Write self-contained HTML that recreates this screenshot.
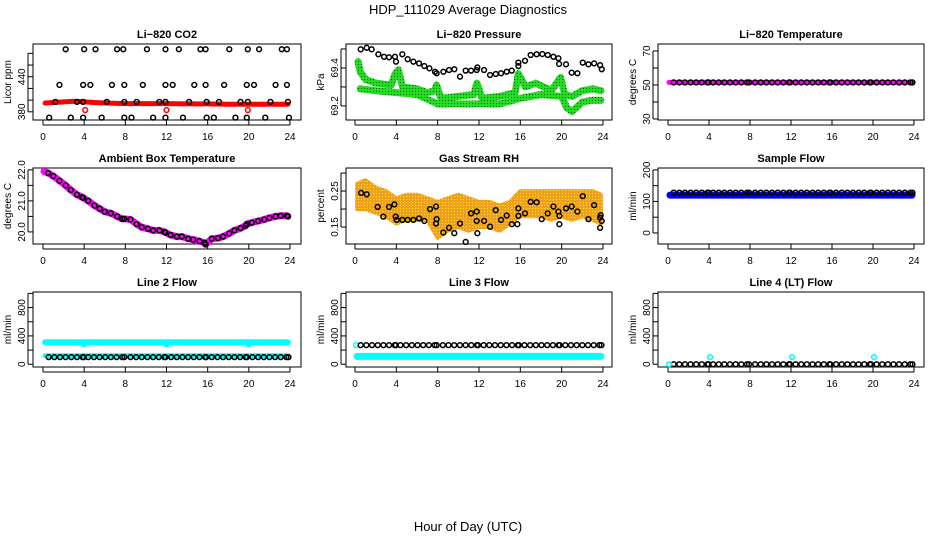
<!DOCTYPE html>
<html><head><meta charset="utf-8">
<style>
html,body{margin:0;padding:0;background:#fff;}
svg{display:block;font-family:"Liberation Sans",sans-serif;}
</style></head>
<body>
<svg id="chart" width="936" height="540" viewBox="0 0 936 540" xmlns="http://www.w3.org/2000/svg">
<defs>
<pattern id="dots" width="3" height="3" patternUnits="userSpaceOnUse"><rect width="3" height="3" fill="#22dd22"/><rect x="1" y="1" width="1" height="1" fill="#0a5a0a"/></pattern>
<pattern id="rhdots" width="3" height="3" patternUnits="userSpaceOnUse"><rect width="3" height="3" fill="#f0a020"/><rect x="1" y="1" width="1" height="1" fill="#ffee00"/></pattern>
</defs>
<rect width="936" height="540" fill="#fff"/>
<text x="468" y="14" text-anchor="middle" font-size="13">HDP_111029  Average Diagnostics</text>
<text x="468" y="531" text-anchor="middle" font-size="13">Hour of Day (UTC)</text>
</svg>
<script>
// ---- data ----
const xTicks = [0,4,8,12,16,20,24];
const circleTimes = [0.55,1.1,1.65,2.2,2.75,3.3,3.85,3.95,4.4,4.95,5.5,6.05,6.6,7.15,7.7,7.9,8.5,9.05,9.6,10.15,10.7,11.25,11.8,11.9,12.45,13,13.55,14.1,14.65,15.2,15.75,15.85,16.4,16.95,17.5,18.05,18.6,19.15,19.7,19.8,20.35,20.9,21.45,22,22.55,23.1,23.65,23.85];

const co2TopT = [2.2,4.0,5.1,7.2,7.8,10.1,11.9,13.2,15.3,15.8,18.1,19.9,21.0,23.2,23.7];
const co2MidT = [1.6,3.9,4.6,6.7,7.9,9.7,11.9,12.6,14.7,15.8,17.6,19.8,20.5,22.6,23.7];
const co2LowT = [1.2,3.3,3.9,6.2,7.9,9.1,11.3,11.9,14.2,15.9,17.1,19.2,19.9,22.1,23.8];
const co2BotT = [0.6,2.7,3.9,5.7,7.9,8.6,10.7,11.9,13.6,15.9,16.6,18.7,19.8,21.6,23.9];
const co2Levels = [487,426,397,370];
const co2RedT = [4.1,12.0,19.9];
const co2RedV = 383;
const co2BandT = [0.2,1,2,3,4,5,6,8,10,12,14,16,18,20,22,23.8];
const co2BandV = [395,396,397,398,397,396,395,394,394,394,393.5,393.5,393,393,393,393];

const presT = [0.55,1.13,1.61,2.26,2.81,3.29,3.87,3.97,4.58,5.1,5.65,6.2,6.71,7.2,7.74,7.9,8.55,9.1,9.61,10.16,10.71,11.23,11.78,11.84,12.49,13.07,13.62,14.13,14.68,15.17,15.81,15.81,16.45,17.0,17.58,18.13,18.65,19.2,19.68,19.75,20.42,20.97,21.52,22.04,22.59,23.14,23.72,23.88];
const presV = [69.498,69.506,69.498,69.472,69.459,69.456,69.459,69.433,69.472,69.446,69.433,69.424,69.410,69.398,69.380,69.372,69.380,69.389,69.393,69.354,69.386,69.386,69.389,69.403,69.389,69.363,69.368,69.372,69.380,69.386,69.410,69.428,69.438,69.468,69.472,69.473,69.468,69.459,69.451,69.421,69.419,69.375,69.372,69.428,69.419,69.424,69.415,69.393];
const presGreenAT = [0.3,0.5,1,2,3.5,3.9,4.2,4.6,6,7,7.7,7.9,8.3,10,11.5,11.8,12.3,14,15.5,15.8,16.5,17.5,19,19.9,20.3,21,22,23,23.8];
const presGreenAV = [69.433,69.38,69.34,69.32,69.31,69.37,69.39,69.30,69.29,69.27,69.28,69.31,69.24,69.25,69.26,69.32,69.24,69.25,69.27,69.37,69.30,69.32,69.28,69.35,69.26,69.25,69.28,69.29,69.28];
const presGreenBT = [0.5,2,4,6,8,10,12,14,16,18,20,20.5,21,22,23,23.8];
const presGreenBV = [69.29,69.28,69.27,69.26,69.21,69.21,69.21,69.21,69.24,69.26,69.25,69.19,69.17,69.22,69.23,69.23];

const tempLevel = 51.5;

const ambT = [0.5,1,1.6,2.2,2.7,3.3,3.8,3.9,4.4,5,5.5,6,6.6,7.2,7.7,7.9,8.5,9.1,9.6,10.2,10.7,11.3,11.8,11.9,12.4,13,13.5,14.1,14.6,15.2,15.7,15.8,16.4,17,17.5,18.1,18.6,19.2,19.7,19.8,20.3,20.9,21.5,22,22.6,23.1,23.7,23.8];
const ambV = [21.9,21.8,21.65,21.5,21.35,21.2,21.12,21.1,21.0,20.85,20.75,20.65,20.6,20.5,20.42,20.42,20.4,20.25,20.15,20.1,20.05,20.05,20.0,19.98,19.9,19.85,19.85,19.78,19.75,19.7,19.65,19.6,19.78,19.8,19.85,19.95,20.05,20.12,20.2,20.25,20.3,20.35,20.4,20.45,20.5,20.52,20.52,20.5];

const rhT = [0.59,1.13,2.19,2.74,3.29,3.81,3.94,4.03,4.58,5.1,5.65,6.2,6.71,7.26,7.84,7.84,7.9,8.55,9.1,9.61,10.16,10.71,11.23,11.78,11.78,11.84,12.49,13.07,13.62,14.13,14.68,15.17,15.71,15.81,15.81,16.45,17.0,17.58,18.07,18.65,19.2,19.68,19.78,19.78,20.42,20.97,21.52,22.04,22.59,23.14,23.72,23.78,23.72,23.88];
const rhV = [0.245,0.241,0.206,0.179,0.206,0.213,0.179,0.170,0.170,0.170,0.170,0.174,0.167,0.200,0.207,0.160,0.172,0.135,0.148,0.133,0.160,0.109,0.188,0.193,0.167,0.133,0.167,0.151,0.197,0.170,0.182,0.158,0.158,0.202,0.181,0.188,0.220,0.219,0.172,0.188,0.207,0.193,0.181,0.158,0.202,0.207,0.193,0.236,0.172,0.211,0.176,0.183,0.148,0.167];
const rhBandT = [0.2,1,2,3,4,5,6,7,8,9,10,11,12,13,14,15,16,17,18,19,20,21,22,23,23.8];
const rhBandHi = [0.27,0.28,0.26,0.25,0.23,0.24,0.24,0.23,0.22,0.23,0.24,0.23,0.22,0.22,0.21,0.22,0.25,0.25,0.25,0.25,0.25,0.25,0.25,0.25,0.24];
const rhBandLo = [0.20,0.20,0.19,0.18,0.16,0.17,0.17,0.17,0.12,0.14,0.15,0.14,0.15,0.15,0.14,0.16,0.18,0.18,0.18,0.17,0.18,0.17,0.18,0.17,0.16];

const sampleBlack = 128;
const sampleBlue = 120;

const l2Cyan = 310;
const l2CyanDipT = [4,12,20];
const l2CyanDipV = 280;
const l2CyanLow = 120;
const l2Black = 100;

const l3Black = 270;
const l3Cyan = 110;

const l4Black = 0;
const l4CyanT = [0.1,4.1,12.1,20.1];
const l4CyanV = [0,100,100,100];

// ---- drawing ----
const svg = document.getElementById('chart');
const NS = 'http://www.w3.org/2000/svg';
function mk(tag, attrs, parent){const e=document.createElementNS(NS,tag);for(const k in attrs)e.setAttribute(k,attrs[k]);(parent||svg).appendChild(e);return e;}
const cols=[{l:33,r:301,x0:43,x24:290},{l:346,r:612,x0:355,x24:603},{l:658,r:924,x0:668,x24:914}];
const rows=[{t:44,b:120},{t:168,b:244},{t:292,b:367}];

function panel(ci,ri,name,title,ylab,ymin,ymax,yticks,ylabels){
  const c=cols[ci],r=rows[ri];
  const g=mk('g',{});
  
  
  const xs=t=>c.x0+(t/24)*(c.x24-c.x0);
  const ys=v=>r.b-(v-ymin)/(ymax-ymin)*(r.b-r.t);
  const box=mk('rect',{x:c.l,y:r.t,width:c.r-c.l,height:r.b-r.t,fill:'none',stroke:'#000','stroke-width':1},g);
  
  
  const tt=mk('text',{x:(c.l+c.r)/2,y:r.t-6,'text-anchor':'middle','font-size':11,'font-weight':'bold'},g);
  tt.textContent=title;
  
  
  xTicks.forEach(t=>{
    mk('line',{x1:xs(t),x2:xs(t),y1:r.b,y2:r.b+5,stroke:'#000'},g);
    const tx=mk('text',{x:xs(t),y:r.b+20,'text-anchor':'middle','font-size':10},g);
    tx.textContent=t;
    
    
  });
  yticks.forEach(v=>{
    mk('line',{x1:c.l-5,x2:c.l,y1:ys(v),y2:ys(v),stroke:'#000'},g);
  });
  ylabels.forEach(v=>{
    const tx=mk('text',{x:0,y:0,'text-anchor':'middle','font-size':10,transform:`translate(${c.l-8},${ys(v)}) rotate(-90)`},g);
    tx.textContent=v;
    
    
  });
  mk('line',{x1:c.l-5,x2:c.l-5,y1:ys(yticks[0]),y2:ys(yticks[yticks.length-1]),stroke:'#000'},g);
  mk('line',{x1:xs(0),x2:xs(24),y1:r.b+5,y2:r.b+5,stroke:'#000'},g);
  const yl=mk('text',{x:0,y:0,'text-anchor':'middle','font-size':10,transform:`translate(${c.l-22},${(r.t+r.b)/2}) rotate(-90)`},g);
  yl.textContent=ylab;
  
  
  return {g,xs,ys};
}
function band(p,T,V,color,w,name){
  const d=T.map((t,i)=>(i?'L':'M')+p.xs(t).toFixed(1)+','+p.ys(V[i]).toFixed(1)).join('');
  const e=mk('path',{d,fill:'none',stroke:color,'stroke-width':w,'stroke-linecap':'round','stroke-linejoin':'round'},p.g);
  
  
}
function pts(p,T,V,color,name){
  T.forEach((t,i)=>{
    const v=Array.isArray(V)?V[i]:V;
    const e=mk('circle',{cx:p.xs(t),cy:p.ys(v),r:2.4,fill:'none',stroke:color,'stroke-width':1.5},p.g);
    
    
  });
}

// CO2
let p=panel(0,0,'co2-panel','Li−820 CO2','Licor ppm',366,496,[380,400,420,440,460,480],[380,440]);
band(p,co2BandT,co2BandV,'#ff0000',5,'co2-band');
pts(p,co2TopT,co2Levels[0],'#000','co2-point');
pts(p,co2MidT,co2Levels[1],'#000','co2-point');
pts(p,co2LowT,co2Levels[2],'#000','co2-point');
pts(p,co2BotT,co2Levels[3],'#000','co2-point');
pts(p,co2RedT,co2RedV,'#ff0000','co2-red-point');

// Pressure
p=panel(1,0,'pressure-panel','Li−820 Pressure','kPa',69.126,69.526,[69.2,69.3,69.4,69.5],[69.2,69.4]);
band(p,presGreenAT,presGreenAV,'url(#dots)',7,'pressure-green-upper');
band(p,presGreenBT,presGreenBV,'url(#dots)',7,'pressure-green-lower');
pts(p,presT,presV,'#000','pressure-point');

// Temperature
p=panel(2,0,'temperature-panel','Li−820 Temperature','degrees C',29.4,74.1,[30,40,50,60,70],[30,50,70]);
band(p,[0.1,23.9],[tempLevel,tempLevel],'#ff00ff',5,'temperature-band');
pts(p,circleTimes,tempLevel,'#000','temperature-point');

// Ambient
p=panel(0,1,'ambient-panel','Ambient Box Temperature','degrees C',19.61,22.06,[20.0,20.5,21.0,21.5,22.0],['20.0','21.0','22.0']);
band(p,[0.1].concat(ambT),[21.95].concat(ambV),'#ff00ff',7,'ambient-band');
pts(p,ambT,ambV,'#000','ambient-point');

// RH
p=panel(1,1,'rh-panel','Gas Stream RH','percent',0.103,0.314,[0.15,0.20,0.25,0.30],['0.15','0.25']);
{
  const d=rhBandT.map((t,i)=>(i?'L':'M')+p.xs(t).toFixed(1)+','+p.ys(rhBandHi[i]).toFixed(1)).join('')+
    rhBandT.slice().reverse().map((t,j)=>{const i=rhBandT.length-1-j;return 'L'+p.xs(t).toFixed(1)+','+p.ys(rhBandLo[i]).toFixed(1);}).join('')+'Z';
  const e=mk('path',{d,fill:'url(#rhdots)',stroke:'url(#rhdots)','stroke-width':4,'stroke-linejoin':'round'},p.g);
  
  
}
pts(p,rhT,rhV,'#000','rh-point');

// Sample flow
p=panel(2,1,'sample-flow-panel','Sample Flow','ml/min',-35,206,[0,50,100,150,200],[0,100,200]);
band(p,[0.2,23.8],[sampleBlue,sampleBlue],'#0000ff',7,'sample-flow-band');
pts(p,circleTimes,sampleBlack,'#000','sample-flow-point');

// Line 2
p=panel(0,2,'line2-panel','Line 2 Flow','ml/min',-39,1020,[0,200,400,600,800,1000],[0,400,800]);
band(p,[0.2].concat(l2CyanDipT.flatMap(t=>[t-0.1,t,t+0.1])).concat([23.8]),[l2Cyan].concat(l2CyanDipT.flatMap(()=>[l2Cyan,l2CyanDipV,l2Cyan])).concat([l2Cyan]),'#00ffff',6,'line2-cyan-band');
band(p,[0.2,23.8],[l2CyanLow,l2CyanLow],'#00ffff',5,'line2-cyan-low');
pts(p,circleTimes,l2Black,'#000','line2-point');

// Line 3
p=panel(1,2,'line3-panel','Line 3 Flow','ml/min',-39,1020,[0,200,400,600,800,1000],[0,400,800]);
band(p,[0.2,23.8],[l3Cyan,l3Cyan],'#00ffff',7,'line3-cyan-band');
pts(p,[0.1],l3Black,'#00ffff','line3-cyan-point');
pts(p,circleTimes,l3Black,'#000','line3-point');

// Line 4
p=panel(2,2,'line4-panel','Line 4 (LT) Flow','ml/min',-39,1020,[0,200,400,600,800,1000],[0,400,800]);
pts(p,circleTimes,l4Black,'#000','line4-point');
pts(p,l4CyanT,l4CyanV,'#00ffff','line4-cyan-point');
</script>
</body></html>
